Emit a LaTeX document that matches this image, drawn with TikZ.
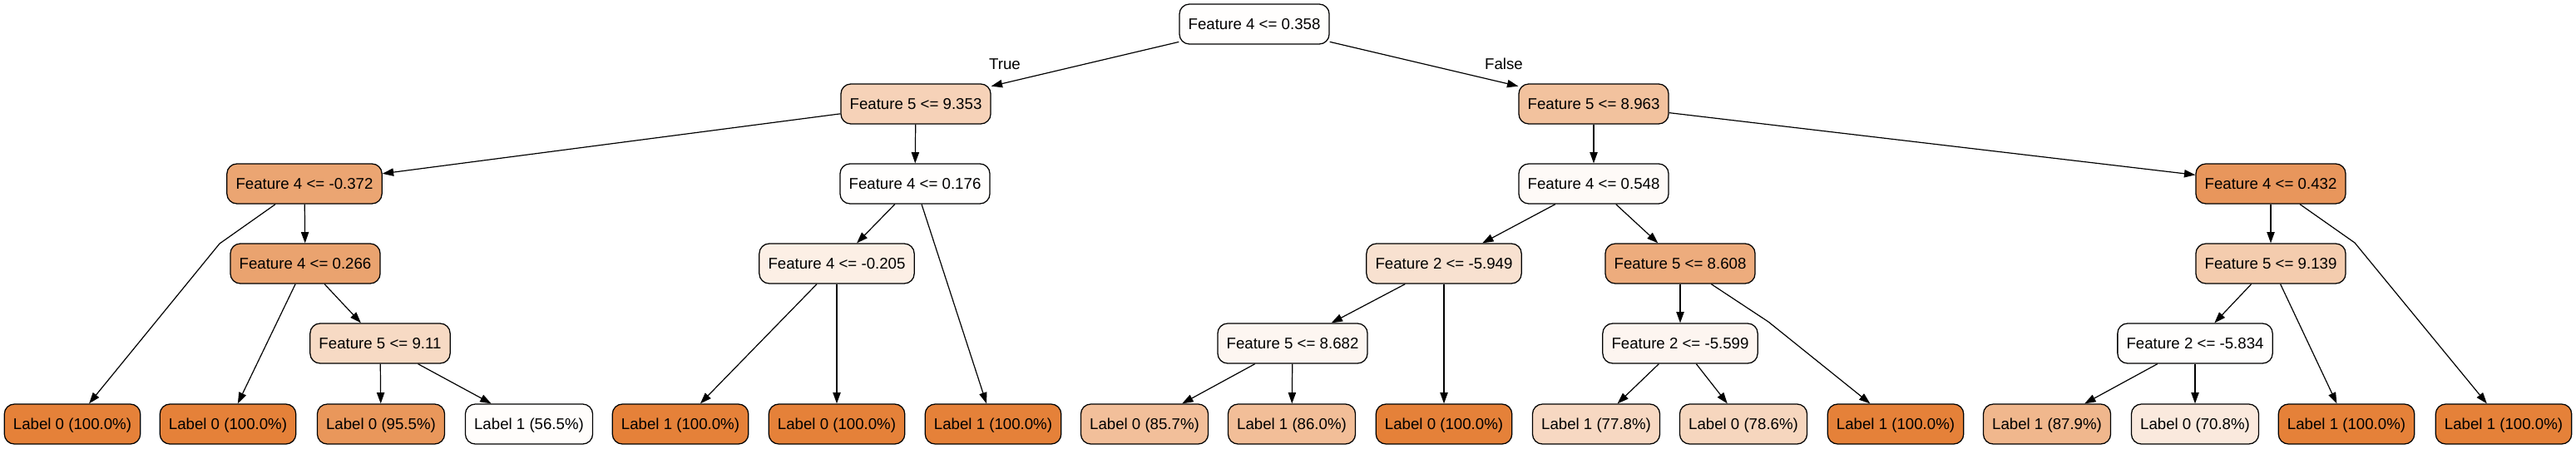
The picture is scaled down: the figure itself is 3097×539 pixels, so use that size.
\documentclass[tikz,border=0pt]{standalone}
\usepackage{fontspec}
\setmainfont{Liberation Sans}
\usetikzlibrary{arrows.meta}
\definecolor{cfull}{RGB}{229,129,57}
\definecolor{cwhite}{RGB}{255,254,253}
\definecolor{cA}{RGB}{246,210,184}
\definecolor{cB}{RGB}{242,194,158}
\definecolor{cC}{RGB}{235,165,114}
\definecolor{cD}{RGB}{234,163,111}
\definecolor{cE}{RGB}{252,239,229}
\definecolor{cF}{RGB}{254,250,247}
\definecolor{cG}{RGB}{232,150,92}
\definecolor{cH}{RGB}{248,225,208}
\definecolor{cI}{RGB}{237,172,125}
\definecolor{cJ}{RGB}{244,204,174}
\definecolor{cK}{RGB}{247,218,196}
\definecolor{cL}{RGB}{253,246,241}
\definecolor{cM}{RGB}{253,245,240}
\definecolor{l955}{RGB}{233,151,91}
\definecolor{l565}{RGB}{255,253,251}
\definecolor{l857}{RGB}{242,191,154}
\definecolor{l860}{RGB}{242,190,152}
\definecolor{l778}{RGB}{247,216,194}
\definecolor{l786}{RGB}{246,214,190}
\definecolor{l879}{RGB}{240,183,141}
\definecolor{l708}{RGB}{250,233,221}
\begin{document}
\begin{tikzpicture}[x=0.75pt,y=-0.75pt,
  tn/.style={draw=black, line width=0.95pt, rounded corners=9pt, minimum height=36pt,
    inner xsep=8pt, inner ysep=0pt, text height=10pt, text depth=0pt,
    font=\fontsize{14}{16}\selectfont},
  edge/.style={line width=0.9pt, -{Triangle[length=10pt,width=7pt]}},
  elabel/.style={font=\fontsize{14}{16}\selectfont, inner sep=0pt}]
\useasboundingbox (0,0) rectangle (3097,539);
% row 0
\node[tn, fill=cwhite] (n0) at (1508,29) {Feature 4 <= 0.358};
% row 1
\node[tn, fill=cA] (n1) at (1101,125) {Feature 5 <= 9.353};
\node[tn, fill=cB] (n2) at (1916,125) {Feature 5 <= 8.963};
% row 2
\node[tn, fill=cC] (n3) at (366,221) {Feature 4 <= -0.372};
\node[tn, fill=cwhite] (n4) at (1100,221) {Feature 4 <= 0.176};
\node[tn, fill=cF] (n5) at (1916,221) {Feature 4 <= 0.548};
\node[tn, fill=cG] (n6) at (2730,221) {Feature 4 <= 0.432};
% row 3
\node[tn, fill=cD] (n7) at (367,317) {Feature 4 <= 0.266};
\node[tn, fill=cE] (n8) at (1006,317) {Feature 4 <= -0.205};
\node[tn, fill=cH] (n9) at (1736,317) {Feature 2 <= -5.949};
\node[tn, fill=cI] (n10) at (2020,317) {Feature 5 <= 8.608};
\node[tn, fill=cJ] (n11) at (2730,317) {Feature 5 <= 9.139};
% row 4
\node[tn, fill=cK] (n12) at (457,413) {Feature 5 <= 9.11};
\node[tn, fill=cL] (n13) at (1554,413) {Feature 5 <= 8.682};
\node[tn, fill=cM] (n14) at (2020,413) {Feature 2 <= -5.599};
\node[tn, fill=cwhite] (n15) at (2639,413) {Feature 2 <= -5.834};
% leaves
\node[tn, fill=cfull] (l1) at (87,510) {Label 0 (100.0\%)};
\node[tn, fill=cfull] (l2) at (274,510) {Label 0 (100.0\%)};
\node[tn, fill=l955] (l3) at (458,510) {Label 0 (95.5\%)};
\node[tn, fill=l565] (l4) at (636,510) {Label 1 (56.5\%)};
\node[tn, fill=cfull] (l5) at (818,510) {Label 1 (100.0\%)};
\node[tn, fill=cfull] (l6) at (1006,510) {Label 0 (100.0\%)};
\node[tn, fill=cfull] (l7) at (1194,510) {Label 1 (100.0\%)};
\node[tn, fill=l857] (l8) at (1376,510) {Label 0 (85.7\%)};
\node[tn, fill=l860] (l9) at (1553,510) {Label 1 (86.0\%)};
\node[tn, fill=cfull] (l10) at (1736,510) {Label 0 (100.0\%)};
\node[tn, fill=l778] (l11) at (1919,510) {Label 1 (77.8\%)};
\node[tn, fill=l786] (l12) at (2096,510) {Label 0 (78.6\%)};
\node[tn, fill=cfull] (l13) at (2279,510) {Label 1 (100.0\%)};
\node[tn, fill=l879] (l14) at (2461,510) {Label 1 (87.9\%)};
\node[tn, fill=l708] (l15) at (2639,510) {Label 0 (70.8\%)};
\node[tn, fill=cfull] (l16) at (2821,510) {Label 1 (100.0\%)};
\node[tn, fill=cfull] (l17) at (3010,510) {Label 1 (100.0\%)};
% bend points
\coordinate (b1) at (264,293);
\coordinate (b2) at (2126,387);
\coordinate (b3) at (2831,292);
% edge labels
\node[elabel] (tT) at (1208,77) {True};
\node[elabel] (tF) at (1808,77) {False};
% edges
\draw[edge] (n0) -- (n1);
\draw[edge] (n0) -- (n2);
\draw[edge] (n1) -- (n3);
\draw[edge] (n1) -- (n4);
\draw[edge] (n3) -- (b1) -- (l1);
\draw[edge] (n3) -- (n7);
\draw[edge] (n7) -- (l2);
\draw[edge] (n7) -- (n12);
\draw[edge] (n12) -- (l3);
\draw[edge] (n12) -- (l4);
\draw[edge] (n4) -- (n8);
\draw[edge] (n4) -- (l7);
\draw[edge] (n8) -- (l5);
\draw[edge] (n8) -- (l6);
\draw[edge] (n2) -- (n5);
\draw[edge] (n2) -- (n6);
\draw[edge] (n5) -- (n9);
\draw[edge] (n5) -- (n10);
\draw[edge] (n9) -- (n13);
\draw[edge] (n9) -- (l10);
\draw[edge] (n13) -- (l8);
\draw[edge] (n13) -- (l9);
\draw[edge] (n10) -- (n14);
\draw[edge] (n10) -- (b2) -- (l13);
\draw[edge] (n14) -- (l11);
\draw[edge] (n14) -- (l12);
\draw[edge] (n6) -- (n11);
\draw[edge] (n6) -- (b3) -- (l17);
\draw[edge] (n11) -- (n15);
\draw[edge] (n11) -- (l16);
\draw[edge] (n15) -- (l14);
\draw[edge] (n15) -- (l15);
\end{tikzpicture}
\end{document}
